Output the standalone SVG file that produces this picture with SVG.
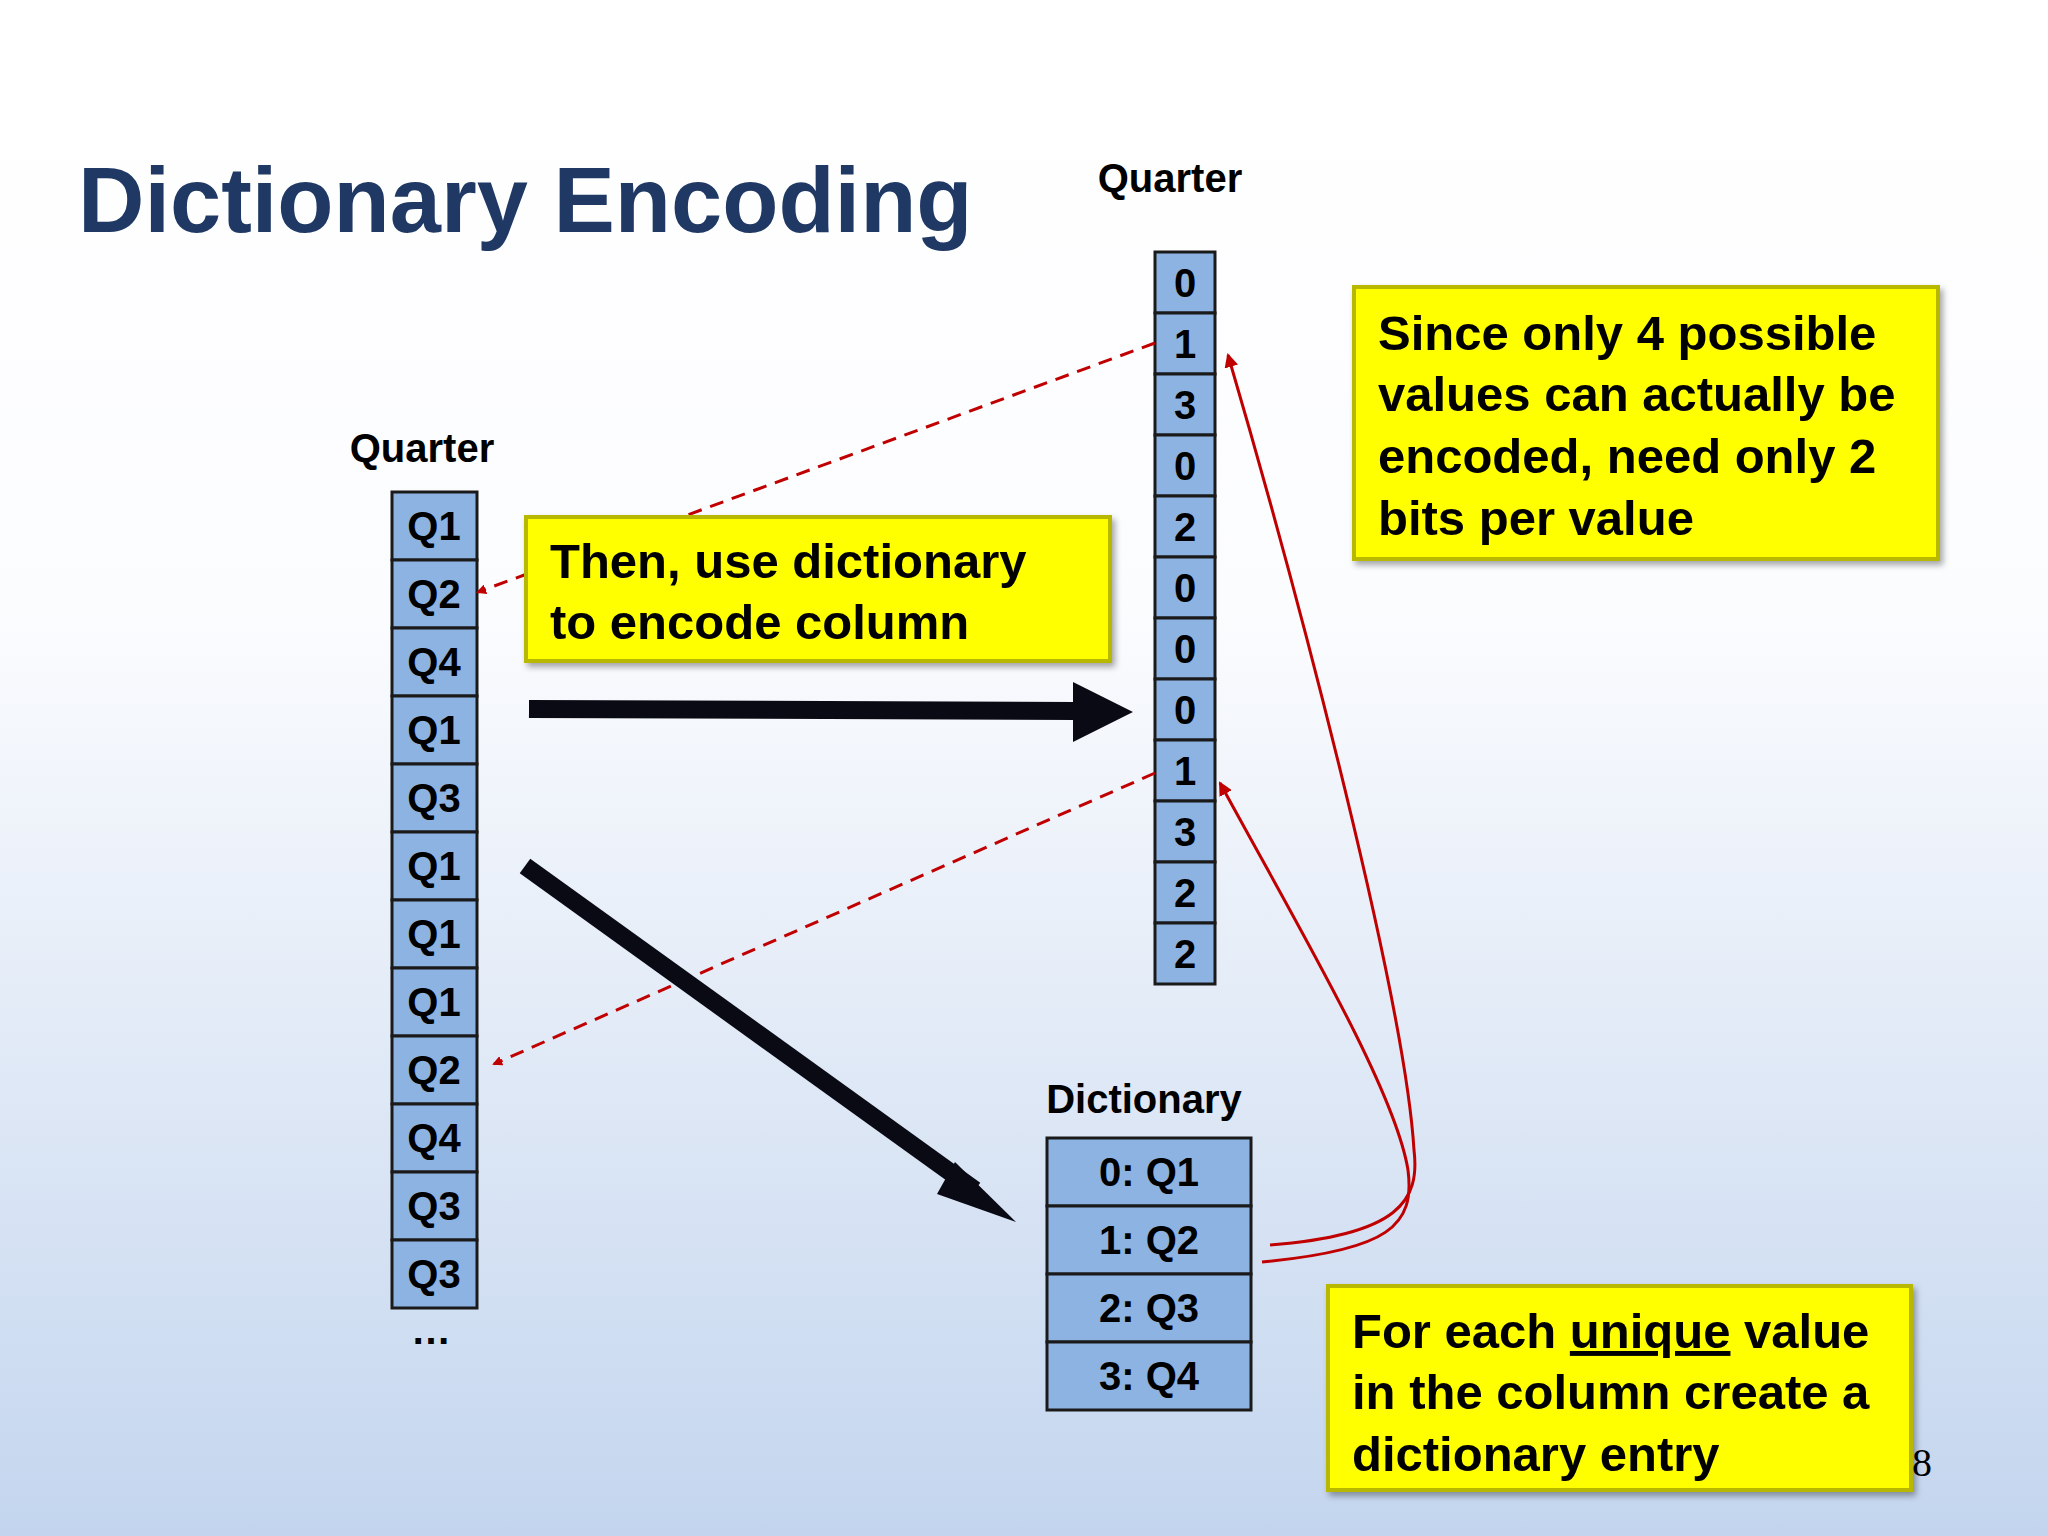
<svg xmlns="http://www.w3.org/2000/svg" width="2048" height="1536" viewBox="0 0 2048 1536">
<defs>
<linearGradient id="bg" x1="0" y1="0" x2="0" y2="1"><stop offset="0" stop-color="#ffffff"/><stop offset="0.4" stop-color="#fbfcfe"/><stop offset="1" stop-color="#c3d5ee"/></linearGradient>
<marker id="ra" markerWidth="10" markerHeight="10" refX="8" refY="5" orient="auto" markerUnits="userSpaceOnUse" viewBox="0 0 10 10"><path d="M0,0 L10,5 L0,10 z" fill="#c00000"/></marker>
<marker id="rb" markerWidth="14" markerHeight="14" refX="12" refY="7" orient="auto" markerUnits="userSpaceOnUse" viewBox="0 0 14 14"><path d="M0,0 L14,7 L0,14 z" fill="#c00000"/></marker>
<filter id="sh" x="-5%" y="-5%" width="110%" height="115%"><feDropShadow dx="3" dy="4" stdDeviation="3" flood-color="#000" flood-opacity="0.35"/></filter>
</defs>
<style>
text{font-family:"Liberation Sans",Arial,sans-serif;font-weight:bold;fill:#000}
.c{fill:#8db3e2;stroke:#1a1a1a;stroke-width:3}
.ct{font-size:40px;text-anchor:middle}
.y{fill:#ffff00;stroke:#b8b800;stroke-width:4;filter:url(#sh)}
.yt{font-size:49px}
.lb{font-size:40px;text-anchor:middle}
</style>
<rect width="2048" height="1536" fill="url(#bg)"/>
<text x="78" y="232" style="font-size:92px;fill:#1f3864">Dictionary Encoding</text>

<g id="left-column">
<text class="lb" x="422" y="462">Quarter</text>
<g transform="translate(392,492)">
<rect class="c" x="0" y="0" width="85" height="68"/><text class="ct" x="42" y="48">Q1</text>
<rect class="c" x="0" y="68" width="85" height="68"/><text class="ct" x="42" y="116">Q2</text>
<rect class="c" x="0" y="136" width="85" height="68"/><text class="ct" x="42" y="184">Q4</text>
<rect class="c" x="0" y="204" width="85" height="68"/><text class="ct" x="42" y="252">Q1</text>
<rect class="c" x="0" y="272" width="85" height="68"/><text class="ct" x="42" y="320">Q3</text>
<rect class="c" x="0" y="340" width="85" height="68"/><text class="ct" x="42" y="388">Q1</text>
<rect class="c" x="0" y="408" width="85" height="68"/><text class="ct" x="42" y="456">Q1</text>
<rect class="c" x="0" y="476" width="85" height="68"/><text class="ct" x="42" y="524">Q1</text>
<rect class="c" x="0" y="544" width="85" height="68"/><text class="ct" x="42" y="592">Q2</text>
<rect class="c" x="0" y="612" width="85" height="68"/><text class="ct" x="42" y="660">Q4</text>
<rect class="c" x="0" y="680" width="85" height="68"/><text class="ct" x="42" y="728">Q3</text>
<rect class="c" x="0" y="748" width="85" height="68"/><text class="ct" x="42" y="796">Q3</text>
</g>
<text class="lb" x="431" y="1344">…</text>
</g>

<g id="right-column">
<text class="lb" x="1170" y="192">Quarter</text>
<g transform="translate(1155,252)">
<rect class="c" x="0" y="0" width="60" height="61"/><text class="ct" x="30" y="45">0</text>
<rect class="c" x="0" y="61" width="60" height="61"/><text class="ct" x="30" y="106">1</text>
<rect class="c" x="0" y="122" width="60" height="61"/><text class="ct" x="30" y="167">3</text>
<rect class="c" x="0" y="183" width="60" height="61"/><text class="ct" x="30" y="228">0</text>
<rect class="c" x="0" y="244" width="60" height="61"/><text class="ct" x="30" y="289">2</text>
<rect class="c" x="0" y="305" width="60" height="61"/><text class="ct" x="30" y="350">0</text>
<rect class="c" x="0" y="366" width="60" height="61"/><text class="ct" x="30" y="411">0</text>
<rect class="c" x="0" y="427" width="60" height="61"/><text class="ct" x="30" y="472">0</text>
<rect class="c" x="0" y="488" width="60" height="61"/><text class="ct" x="30" y="533">1</text>
<rect class="c" x="0" y="549" width="60" height="61"/><text class="ct" x="30" y="594">3</text>
<rect class="c" x="0" y="610" width="60" height="61"/><text class="ct" x="30" y="655">2</text>
<rect class="c" x="0" y="671" width="60" height="61"/><text class="ct" x="30" y="716">2</text>
</g>
</g>

<g id="dictionary">
<text class="lb" x="1144" y="1113">Dictionary</text>
<g transform="translate(1047,1138)">
<rect class="c" x="0" y="0" width="204" height="68"/><text class="ct" x="102" y="48">0: Q1</text>
<rect class="c" x="0" y="68" width="204" height="68"/><text class="ct" x="102" y="116">1: Q2</text>
<rect class="c" x="0" y="136" width="204" height="68"/><text class="ct" x="102" y="184">2: Q3</text>
<rect class="c" x="0" y="204" width="204" height="68"/><text class="ct" x="102" y="252">3: Q4</text>
</g>
</g>

<g id="connectors">
<path d="M1155,343 L478,592" fill="none" stroke="#c00000" stroke-width="3" stroke-dasharray="14,9" marker-end="url(#ra)"/>
<path d="M1155,773 L494,1064" fill="none" stroke="#c00000" stroke-width="3" stroke-dasharray="14,9" marker-end="url(#ra)"/>
<path d="M1270,1245 C1400,1235 1420,1200 1414,1150 C1405,1000 1300,600 1228,355" fill="none" stroke="#c00000" stroke-width="3" marker-end="url(#rb)"/>
<path d="M1262,1262 C1390,1250 1415,1225 1408,1170 C1395,1090 1300,930 1220,783" fill="none" stroke="#c00000" stroke-width="3" marker-end="url(#rb)"/>
<line x1="529" y1="709" x2="1075" y2="711" stroke="#0a0a14" stroke-width="18"/>
<path d="M1073,682 L1133,712 L1073,742 z" fill="#0a0a14"/>
<line x1="525" y1="866" x2="975" y2="1190" stroke="#0a0a14" stroke-width="18"/>
<path d="M955,1162 L1016,1222 L937,1194 z" fill="#0a0a14"/>
</g>

<g id="note-encode">
<rect class="y" x="526" y="517" width="584" height="144"/>
<text class="yt" x="550" y="578">Then, use dictionary</text>
<text class="yt" x="550" y="639">to encode column</text>
</g>
<g id="note-bits">
<rect class="y" x="1354" y="287" width="584" height="272"/>
<text class="yt" x="1378" y="350">Since only 4 possible</text>
<text class="yt" x="1378" y="411">values can actually be</text>
<text class="yt" x="1378" y="473">encoded, need only 2</text>
<text class="yt" x="1378" y="535">bits per value</text>
</g>
<g id="note-unique">
<rect class="y" x="1328" y="1286" width="583" height="204"/>
<text class="yt" x="1352" y="1348">For each <tspan text-decoration="underline">unique</tspan> value</text>
<text class="yt" x="1352" y="1409">in the column create a</text>
<text class="yt" x="1352" y="1471">dictionary entry</text>
</g>
<text x="1912" y="1476" style="font-family:'Liberation Serif',serif;font-weight:normal;font-size:40px">8</text>
</svg>
